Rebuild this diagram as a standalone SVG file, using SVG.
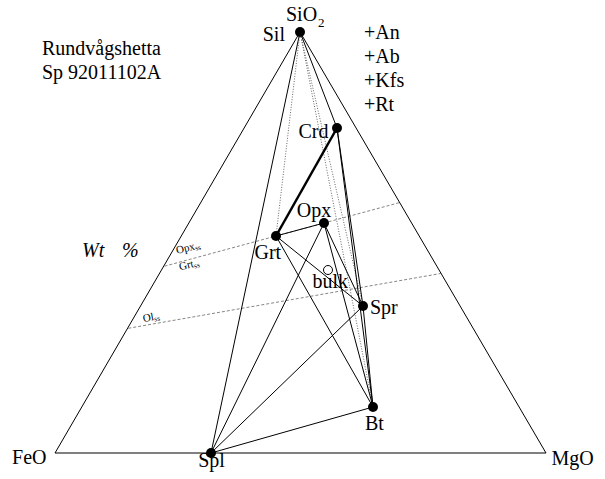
<svg xmlns="http://www.w3.org/2000/svg" width="605" height="479" viewBox="0 0 605 479">
<style>
.lb{font-size:20px}
.sm{font-size:11px}
.ln{stroke:#000;stroke-width:1;fill:none}
.thick{stroke:#000;stroke-width:2.5;fill:none}
.dot{stroke:#555;stroke-width:0.9;stroke-dasharray:1 1.6;fill:none}
.dash{stroke:#666;stroke-width:0.8;stroke-dasharray:3 2;fill:none}
.pt{fill:#000}
</style>
<rect width="605" height="479" fill="#fff"/>
<g id="connectors">
<polygon class="ln" points="55,453 300,32 546,453"/>
<line class="dash" x1="164.5" y1="266.2" x2="399.5" y2="202.6"/>
<line class="dash" x1="128.3" y1="328.3" x2="441.7" y2="273.3"/>
<line class="ln" x1="300" y1="32" x2="211" y2="453"/>
<line class="ln" x1="300" y1="32" x2="337" y2="128"/>
<line class="dot" x1="300" y1="32" x2="276" y2="236"/>
<line class="dot" x1="300" y1="32" x2="363" y2="306"/>
<line class="dot" x1="300" y1="32" x2="373" y2="407"/>
<line class="thick" x1="276" y1="236" x2="337" y2="128"/>
<line class="ln" x1="276" y1="236" x2="324" y2="223"/>
<line class="ln" x1="276" y1="236" x2="363" y2="306"/>
<line class="ln" x1="276" y1="236" x2="373" y2="407"/>
<line class="ln" x1="324" y1="223" x2="211" y2="453"/>
<line class="ln" x1="324" y1="223" x2="373" y2="407"/>
<line class="ln" x1="324" y1="223" x2="363" y2="306"/>
<line class="ln" x1="337" y1="128" x2="363" y2="306"/>
<line class="ln" x1="337" y1="128" x2="373" y2="407"/>
<line class="ln" x1="363" y1="306" x2="373" y2="407"/>
<line class="ln" x1="211" y1="453" x2="363" y2="306"/>
<line class="ln" x1="211" y1="453" x2="373" y2="407"/>
</g>
<g font-family="Liberation Serif, DejaVu Serif, Times New Roman, serif" fill="#000">
<g id="node-Sil"><circle class="pt" cx="300" cy="32" r="5"/><text class="lb" x="285" y="40.5" text-anchor="end">Sil</text></g>
<g id="node-SiO2"><text class="lb" x="286" y="21">SiO</text><text font-size="13" x="318" y="27.3">2</text></g>
<g id="node-Crd"><circle class="pt" cx="337" cy="128" r="5"/><text class="lb" x="328.5" y="137.5" text-anchor="end">Crd</text></g>
<g id="node-Opx"><circle class="pt" cx="324" cy="223" r="5"/><text class="lb" x="314" y="216.5" text-anchor="middle">Opx</text></g>
<g id="node-Grt"><circle class="pt" cx="276" cy="236" r="5"/><text class="lb" x="254.5" y="259">Grt</text></g>
<g id="node-bulk"><circle cx="328" cy="270" r="4.5" fill="#fff" stroke="#000" stroke-width="1"/><text class="lb" x="312.5" y="287.5">bulk</text></g>
<g id="node-Spr"><circle class="pt" cx="363" cy="306" r="5"/><text class="lb" x="370" y="314">Spr</text></g>
<g id="node-Bt"><circle class="pt" cx="373" cy="407" r="5"/><text class="lb" x="365" y="430">Bt</text></g>
<g id="node-Spl"><circle class="pt" cx="211" cy="453" r="5"/><text class="lb" x="211.5" y="467" text-anchor="middle">Spl</text></g>
<g id="node-FeO"><text class="lb" x="46.5" y="464" text-anchor="end">FeO</text></g>
<g id="node-MgO"><text class="lb" x="551.5" y="465">MgO</text></g>
<g id="labels">
<text class="lb" x="42" y="55">Rundvågshetta</text>
<text class="lb" x="42" y="78.5">Sp 92011102A</text>
<text class="lb" x="364" y="39">+An</text>
<text class="lb" x="364" y="63">+Ab</text>
<text class="lb" x="364" y="87">+Kfs</text>
<text class="lb" x="364" y="111">+Rt</text>
<text class="lb" x="82" y="257" font-style="italic">Wt<tspan x="122">%</tspan></text>
<text class="sm" transform="translate(177,254) rotate(-14)">Opx<tspan font-size="7.5" dy="1.5">ss</tspan></text>
<text class="sm" transform="translate(180,270.5) rotate(-14)">Grt<tspan font-size="7.5" dy="1.5">ss</tspan></text>
<text class="sm" transform="translate(143.5,322) rotate(-10)">Ol<tspan font-size="7.5" dy="1.5">ss</tspan></text>
</g>
</g>
</svg>
